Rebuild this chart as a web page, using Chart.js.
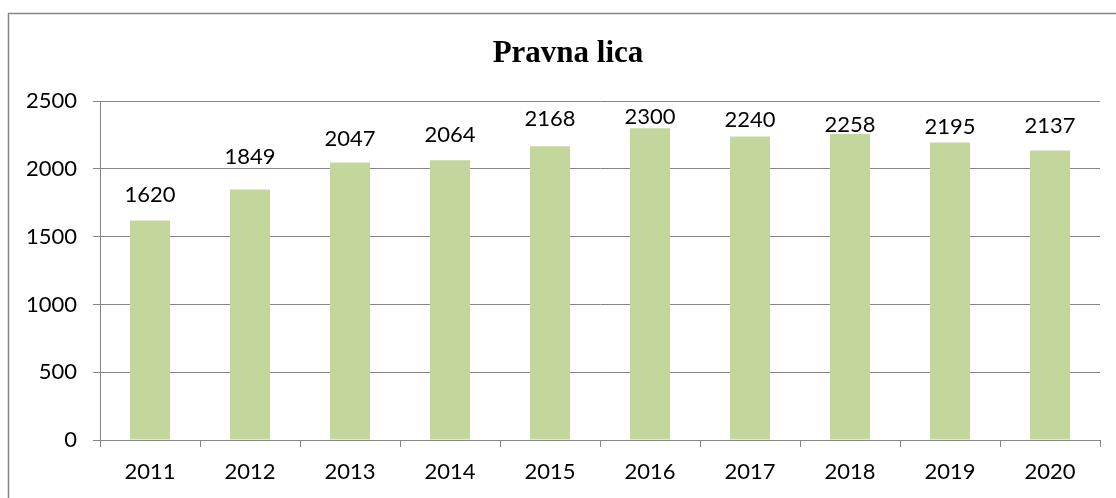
<!DOCTYPE html>
<html>
<head>
<meta charset="utf-8">
<script src="https://cdn.jsdelivr.net/npm/chart.js@4/dist/chart.umd.min.js"></script>
<style>
  html, body { margin: 0; padding: 0; background: #fff; }
  #wrap { width: 1116px; height: 498px; }
</style>
</head>
<body>
<div id="wrap"><canvas id="myChart" width="1116" height="498"></canvas></div>
<script>
// data
const years = ["2011", "2012", "2013", "2014", "2015", "2016", "2017", "2018", "2019", "2020"];
const pravnaLica = [1620, 1849, 2047, 2064, 2168, 2300, 2240, 2258, 2195, 2137];
const chartTitle = "Pravna lica";
const yMin = 0;
const yMax = 2500;
const yStep = 500;

// style: gap (px) between each value label and its bar top, as placed in the original
const labelGap = [18, 25, 17, 18, 20, 4, 9, 2, 9, 17];

const axisColor = "#868686";
const labelFont = { family: "Lato", size: 22 };

// outer frame of the chart box (right/bottom edges are off the picture)
const framePlugin = {
    id: "frame",
    beforeDraw(chart) {
        const ctx = chart.ctx;
        ctx.save();
        ctx.fillStyle = "#fff";
        ctx.fillRect(0, 0, chart.width, chart.height);
        ctx.strokeStyle = axisColor;
        ctx.lineWidth = 1.5;
        ctx.beginPath();
        ctx.moveTo(8.5, chart.height);
        ctx.lineTo(8.5, 13.5);
        ctx.lineTo(chart.width, 13.5);
        ctx.stroke();
        ctx.restore();
    }
};

// value labels above the bars
const valueLabels = {
    id: "valueLabels",
    afterDatasetsDraw(chart) {
        const ctx = chart.ctx;
        ctx.save();
        ctx.font = labelFont.size + "px " + labelFont.family;
        ctx.fillStyle = "#000";
        ctx.textAlign = "center";
        ctx.textBaseline = "alphabetic";
        chart.getDatasetMeta(0).data.forEach((bar, i) => {
            ctx.fillText(String(chart.data.datasets[0].data[i]), bar.x, bar.y - labelGap[i]);
        });
        ctx.restore();
    }
};

const data = {
    labels: years,
    datasets: [{
        label: chartTitle,
        data: pravnaLica,
        backgroundColor: "#c3d69b",
        borderWidth: 0,
        barPercentage: 0.4,
        categoryPercentage: 1.0
    }]
};

const config = {
    type: "bar",
    data: data,
    options: {
        responsive: false,
        animation: false,
        layout: {
            padding: { left: 20, right: 0, top: 0, bottom: 0 }
        },
        scales: {
            x: {
                offset: true,
                grid: {
                    offset: true,
                    drawOnChartArea: false,
                    drawTicks: true,
                    tickLength: 7,
                    color: axisColor
                },
                border: { color: axisColor, width: 1 },
                ticks: {
                    color: "#000",
                    font: labelFont,
                    padding: 12,
                    maxRotation: 0
                },
                afterFit(scale) { scale.height = 58; }
            },
            y: {
                min: yMin,
                max: yMax,
                grid: {
                    color: axisColor,
                    tickLength: 7
                },
                border: { color: axisColor, width: 1 },
                ticks: {
                    stepSize: yStep,
                    color: "#000",
                    font: labelFont,
                    padding: 16,
                    callback: (v) => String(v)
                },
                afterFit(scale) { scale.width = 80; }
            },
            // empty spacer on the right, keeps the plot clear of the frame edge
            yRight: {
                position: "right",
                display: true,
                grid: { display: false, drawTicks: false },
                border: { display: false },
                ticks: { display: false },
                afterFit(scale) { scale.width = 16; }
            }
        },
        plugins: {
            legend: { display: false },
            tooltip: { enabled: false },
            title: {
                display: true,
                text: chartTitle,
                color: "#000",
                font: { family: "Liberation Serif", size: 31, weight: "bold", lineHeight: 1.2 },
                padding: { top: 35, bottom: 29 }
            }
        }
    },
    plugins: [framePlugin, valueLabels]
};

const myChart = new Chart(
    document.getElementById("myChart"),
    config
);
</script>
</body>
</html>
